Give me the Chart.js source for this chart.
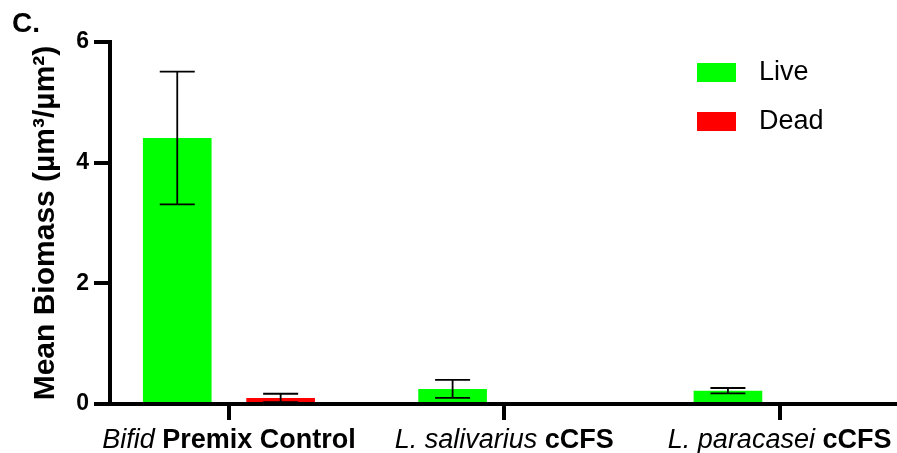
<!DOCTYPE html>
<html>
<head>
<meta charset="utf-8">
<script src="https://cdn.jsdelivr.net/npm/chart.js@4.4.1/dist/chart.umd.min.js"></script>
<style>
  html, body { margin: 0; padding: 0; background: #fff; }
  canvas { display: block; }
</style>
</head>
<body>
<canvas id="c" width="897" height="453"></canvas>
<script>
// Group labels: italic organism name followed by bold treatment name
const groupItalic = ['Bifid', 'L. salivarius', 'L. paracasei'];
const groupBold = ['Premix Control', 'cCFS', 'cCFS'];

// Mean biomass (µm³/µm²) and standard deviations
const liveMean = [4.41, 0.25, 0.22];
const liveSD = [1.10, 0.15, 0.045];
const deadMean = [0.10, 0, 0];
const deadSD = [0.07, 0, 0];

const yTickValues = [0, 2, 4, 6];
const panelLetter = 'C.';
const yTitle = 'Mean Biomass (µm³/µm²)';

const FONT = '"Liberation Sans", Arial, Helvetica, sans-serif';

// Error bars with caps on both ends
const errorBars = {
  id: 'errorBars',
  afterDatasetsDraw(chart) {
    const ctx = chart.ctx;
    const ys = chart.scales.y;
    chart.data.datasets.forEach((ds, di) => {
      const meta = chart.getDatasetMeta(di);
      meta.data.forEach((bar, i) => {
        const sd = ds.errors[i];
        const m = ds.data[i].y;
        if (!sd) return;
        const yt = ys.getPixelForValue(m + sd);
        const yb = ys.getPixelForValue(Math.max(0, m - sd));
        const cap = 17.5;
        ctx.save();
        ctx.strokeStyle = '#000';
        ctx.lineWidth = 1.8;
        ctx.beginPath();
        ctx.moveTo(bar.x, yt); ctx.lineTo(bar.x, yb);
        ctx.moveTo(bar.x - cap, yt); ctx.lineTo(bar.x + cap, yt);
        ctx.moveTo(bar.x - cap, yb); ctx.lineTo(bar.x + cap, yb);
        ctx.stroke();
        ctx.restore();
      });
    });
  }
};

// Legend inside the plot, panel letter, and mixed-style group labels
const decorations = {
  id: 'decorations',
  afterDraw(chart) {
    const ctx = chart.ctx;
    ctx.save();
    // panel letter
    ctx.fillStyle = '#000';
    ctx.font = 'bold 28px ' + FONT;
    ctx.textBaseline = 'alphabetic';
    ctx.textAlign = 'left';
    ctx.fillText(panelLetter, 12, 32);

    // legend
    ctx.font = '27px ' + FONT;
    ctx.textBaseline = 'middle';
    chart.data.datasets.forEach((ds, i) => {
      const y = 63 + i * 49;
      ctx.fillStyle = ds.backgroundColor;
      ctx.fillRect(697, y, 39, 19);
      ctx.fillStyle = '#000';
      ctx.fillText(ds.label, 759, y + 10);
    });

    // group labels under the x ticks
    const xs = chart.scales.x;
    ctx.textBaseline = 'alphabetic';
    groupItalic.forEach((it, i) => {
      const cx = xs.getPixelForValue(i);
      const fIt = 'italic 27px ' + FONT;
      const fBd = 'bold 27px ' + FONT;
      ctx.font = fIt;
      const wIt = ctx.measureText(it + ' ').width;
      ctx.font = fBd;
      const wBd = ctx.measureText(groupBold[i]).width;
      let x = cx - (wIt + wBd) / 2;
      ctx.font = fIt;
      ctx.fillText(it + ' ', x, 448);
      ctx.font = fBd;
      ctx.fillText(groupBold[i], x + wIt, 448);
    });
    ctx.restore();
  }
};

new Chart(document.getElementById('c'), {
  type: 'bar',
  data: {
    datasets: [
      {
        label: 'Live',
        data: liveMean.map((v, i) => ({ x: i, y: v })),
        errors: liveSD,
        backgroundColor: '#00ff00',
        borderWidth: 0
      },
      {
        label: 'Dead',
        data: deadMean.map((v, i) => ({ x: i, y: v })),
        errors: deadSD,
        backgroundColor: '#ff0000',
        borderWidth: 0
      }
    ]
  },
  options: {
    responsive: false,
    devicePixelRatio: 1,
    animation: false,
    categoryPercentage: 0.751,
    barPercentage: 0.664,
    layout: { padding: { top: 42, right: 2, left: 0, bottom: 0 } },
    plugins: { legend: { display: false }, tooltip: { enabled: false } },
    scales: {
      x: {
        type: 'linear',
        min: -0.432,
        max: 2.419,
        offset: false,
        z: 1,
        afterBuildTicks(axis) { axis.ticks = groupItalic.map((_, i) => ({ value: i })); },
        afterFit(axis) { axis.height = 49; },
        ticks: { display: false },
        grid: {
          offset: false,
          drawOnChartArea: false,
          drawTicks: true,
          tickLength: 16,
          tickWidth: 4,
          tickColor: '#000',
          lineWidth: 4,
          color: '#000'
        },
        border: { display: true, color: '#000', width: 4 }
      },
      y: {
        min: 0,
        max: 6,
        z: 1,
        afterBuildTicks(axis) { axis.ticks = yTickValues.map(v => ({ value: v })); },
        afterFit(axis) { axis.width = 110; },
        ticks: {
          color: '#000',
          padding: 5,
          font: { family: FONT, size: 23, weight: 'bold' }
        },
        grid: {
          drawOnChartArea: false,
          drawTicks: true,
          tickLength: 16,
          tickWidth: 4,
          tickColor: '#000',
          lineWidth: 4,
          color: '#000'
        },
        border: { display: true, color: '#000', width: 4 },
        title: {
          display: true,
          text: yTitle,
          color: '#000',
          font: { family: FONT, size: 30, weight: 'bold' },
          padding: { top: 27.5, bottom: 0 }
        }
      }
    }
  },
  plugins: [errorBars, decorations]
});
</script>
</body>
</html>
